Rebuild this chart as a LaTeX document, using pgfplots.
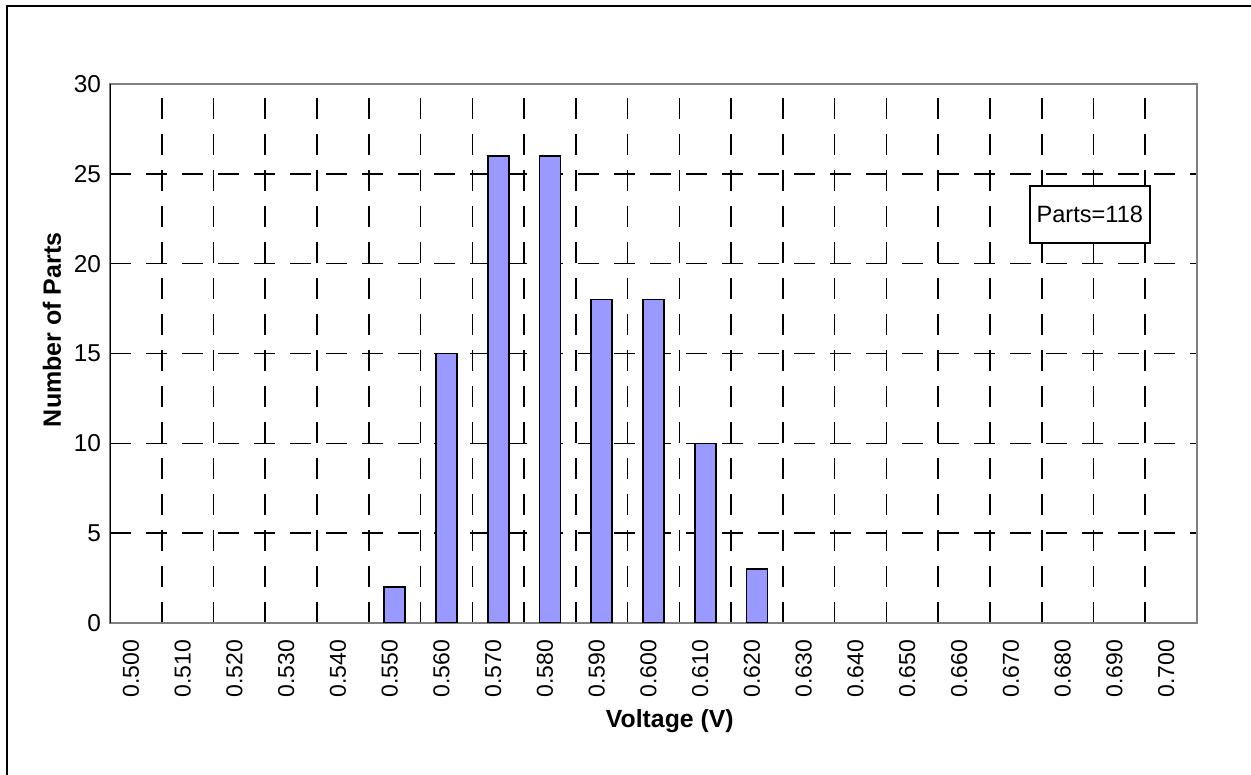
\documentclass[border=0pt]{standalone}
\usepackage{fontspec}
\setmainfont{Liberation Sans}
\usepackage{pgfplots}
\pgfplotsset{compat=1.18}
\definecolor{barfill}{RGB}{153,153,255}
\definecolor{axgray}{RGB}{128,128,128}
\begin{document}
\begin{tikzpicture}
\useasboundingbox (0,0) rectangle (625.5pt,387.5pt);
\draw[line width=1pt] (3.5pt,0) -- (3.5pt,384.5pt) -- (625.5pt,384.5pt);
\begin{axis}[
  at={(55pt,76pt)}, anchor=south west,
  scale only axis, width=543.5pt, height=269.5pt,
  xmin=-0.5, xmax=20.5, ymin=0, ymax=30,
  axis line style={axgray, line width=1pt},
  /pgf/number format/assume math mode=true,
  xtick={0,...,20},
  xticklabels={0.500,0.510,0.520,0.530,0.540,0.550,0.560,0.570,0.580,0.590,0.600,0.610,0.620,0.630,0.640,0.650,0.660,0.670,0.680,0.690,0.700},
  x tick label style={rotate=90, anchor=east, xshift=-5pt, yshift=2.5pt, font=\fontsize{11.5}{13}\selectfont},
  xtick style={draw=none},
  minor xtick={0.5,1.5,...,19.5},
  minor tick length=0pt,
  xminorgrids,
  ytick={0,5,...,30},
  ytick pos=left,
  tick align=inside,
  major tick length=3pt,
  ytick style={black, line width=0.8pt},
  y tick label style={font=\fontsize{12.2}{13}\selectfont, xshift=-1pt},
  ymajorgrids,
  grid style={black, line width=0.8pt, dash pattern=on 10.5pt off 7.5pt},
  major grid style={black, line width=0.8pt, dash pattern=on 10.5pt off 7.5pt},
  minor grid style={black, line width=0.8pt, dash pattern=on 10.5pt off 7.5pt},
  xlabel={Voltage (V)},
  xlabel style={at={(axis description cs:0.515,-0.182)}, anchor=center, font=\bfseries\fontsize{12.4}{14}\selectfont},
  ylabel={Number of Parts},
  ylabel style={at={(axis description cs:-0.0534,0.544)}, anchor=center, font=\bfseries\fontsize{12.5}{14}\selectfont},
]
\addplot[ybar, bar width=10.5pt, fill=barfill, draw=black, line width=0.8pt] coordinates {
  (5,2) (6,15) (7,26) (8,26) (9,18) (10,18) (11,10) (12,3)
};
\draw[black, line width=1pt] (rel axis cs:0,0) -- (rel axis cs:0,1);
\node[draw=black, line width=0.8pt, fill=white, minimum width=60pt, minimum height=28.5pt, inner sep=2pt, font=\fontsize{11.8}{13}\selectfont] at (axis cs:18.43,22.74) {Parts=118};
\end{axis}
\end{tikzpicture}
\end{document}
